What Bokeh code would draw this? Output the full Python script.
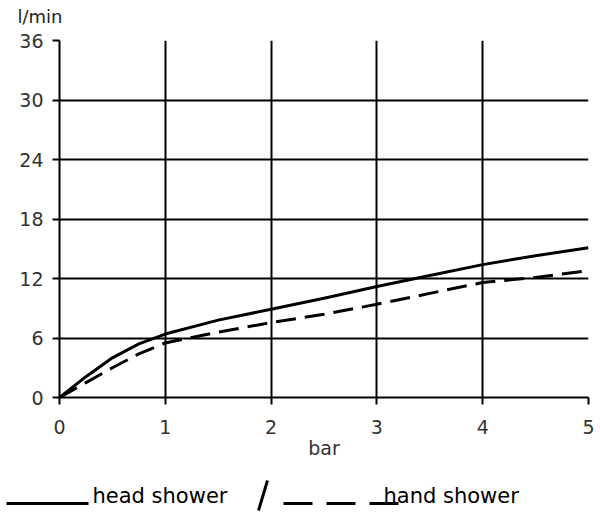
from bokeh.plotting import figure
from bokeh.models import FixedTicker, Range1d
from bokeh.layouts import column
from bokeh.embed import file_html
from bokeh.resources import INLINE
from bokeh.core.properties import value

# ---- data ----
pressure_bar = [0, 0.25, 0.5, 0.75, 1, 1.5, 2, 2.5, 3, 3.5, 4, 4.5, 5]
head_shower = [0, 2.1, 4.0, 5.4, 6.4, 7.8, 8.9, 10.0, 11.2, 12.3, 13.4, 14.3, 15.1]
hand_shower = [0, 1.5, 3.0, 4.4, 5.5, 6.6, 7.55, 8.4, 9.4, 10.5, 11.6, 12.1, 12.8]
x_ticks = [0, 1, 2, 3, 4, 5]
y_ticks = [0, 6, 12, 18, 24, 30, 36]
x_grid = [1, 2, 3, 4]
y_grid = [6, 12, 18, 24, 30]
y_unit = "l/min"
x_unit = "bar"
label_head = "head shower"
label_hand = "hand shower"

FONT = "DejaVu Sans"


def strip(h):
    s = figure(width=598, height=h, x_range=Range1d(0, 598), y_range=Range1d(h, 0),
               output_backend="svg", toolbar_location=None,
               x_axis_location=None, y_axis_location=None, min_border=0)
    s.outline_line_color = None
    s.grid.visible = False
    s.background_fill_color = "white"
    s.border_fill_color = "white"
    s.frame_align = False
    return s


# ---- header strip with the unit ----
hdr = strip(30)
hdr.text(x=[17], y=[16], text=[y_unit], text_font=value(FONT), text_font_size="18px",
         text_color="#222222", text_baseline="middle")

# ---- main chart ----
p = figure(width=598, height=446, x_range=Range1d(0, 5), y_range=Range1d(0, 36),
           output_backend="svg", toolbar_location=None,
           min_border_left=59, min_border_right=10, min_border_top=10, min_border_bottom=79)
p.outline_line_color = None
p.background_fill_color = "white"
p.border_fill_color = "white"
p.frame_align = False

p.xaxis.ticker = FixedTicker(ticks=x_ticks)
p.yaxis.ticker = FixedTicker(ticks=y_ticks)
p.xgrid.ticker = FixedTicker(ticks=x_grid)
p.ygrid.ticker = FixedTicker(ticks=y_grid)
for g in (p.xgrid, p.ygrid):
    g.grid_line_color = "black"
    g.grid_line_width = 2
    g.grid_line_alpha = 1.0

for ax in (p.xaxis, p.yaxis):
    ax.axis_line_color = "black"
    ax.axis_line_width = 2
    ax.major_tick_line_color = "black"
    ax.major_tick_line_width = 2
    ax.major_tick_out = 7
    ax.major_tick_in = 0
    ax.minor_tick_line_color = None
    ax.major_label_text_font = FONT
    ax.major_label_text_font_size = "19px"
    ax.major_label_text_color = "#333333"

p.yaxis.major_label_standoff = 9
p.xaxis.major_label_standoff = 15
p.xaxis.axis_label = x_unit
p.xaxis.axis_label_text_font = FONT
p.xaxis.axis_label_text_font_size = "19px"
p.xaxis.axis_label_text_font_style = "normal"
p.xaxis.axis_label_text_color = "#333333"
p.xaxis.axis_label_standoff = 0

p.line(pressure_bar, head_shower, line_color="black", line_width=3, line_join="round")
p.line(pressure_bar, hand_shower, line_color="black", line_width=3, line_dash="20 9",
       line_join="round")

# ---- legend strip ----
q = strip(38)
q.line([6, 88], [27, 27], line_color="black", line_width=3)
q.text(x=[92], y=[19], text=[label_head], text_font=value(FONT), text_font_size="21px",
       text_color="black", text_baseline="middle")
q.line([258, 267], [34, 4], line_color="black", line_width=3)
q.line([283, 398], [27, 27], line_color="black", line_width=3, line_dash="29 14")
q.text(x=[383], y=[19], text=[label_hand], text_font=value(FONT), text_font_size="21px",
       text_color="black", text_baseline="middle")

layout = column(hdr, p, q, spacing=0)
open("out.html", "w").write(file_html(layout, INLINE))
